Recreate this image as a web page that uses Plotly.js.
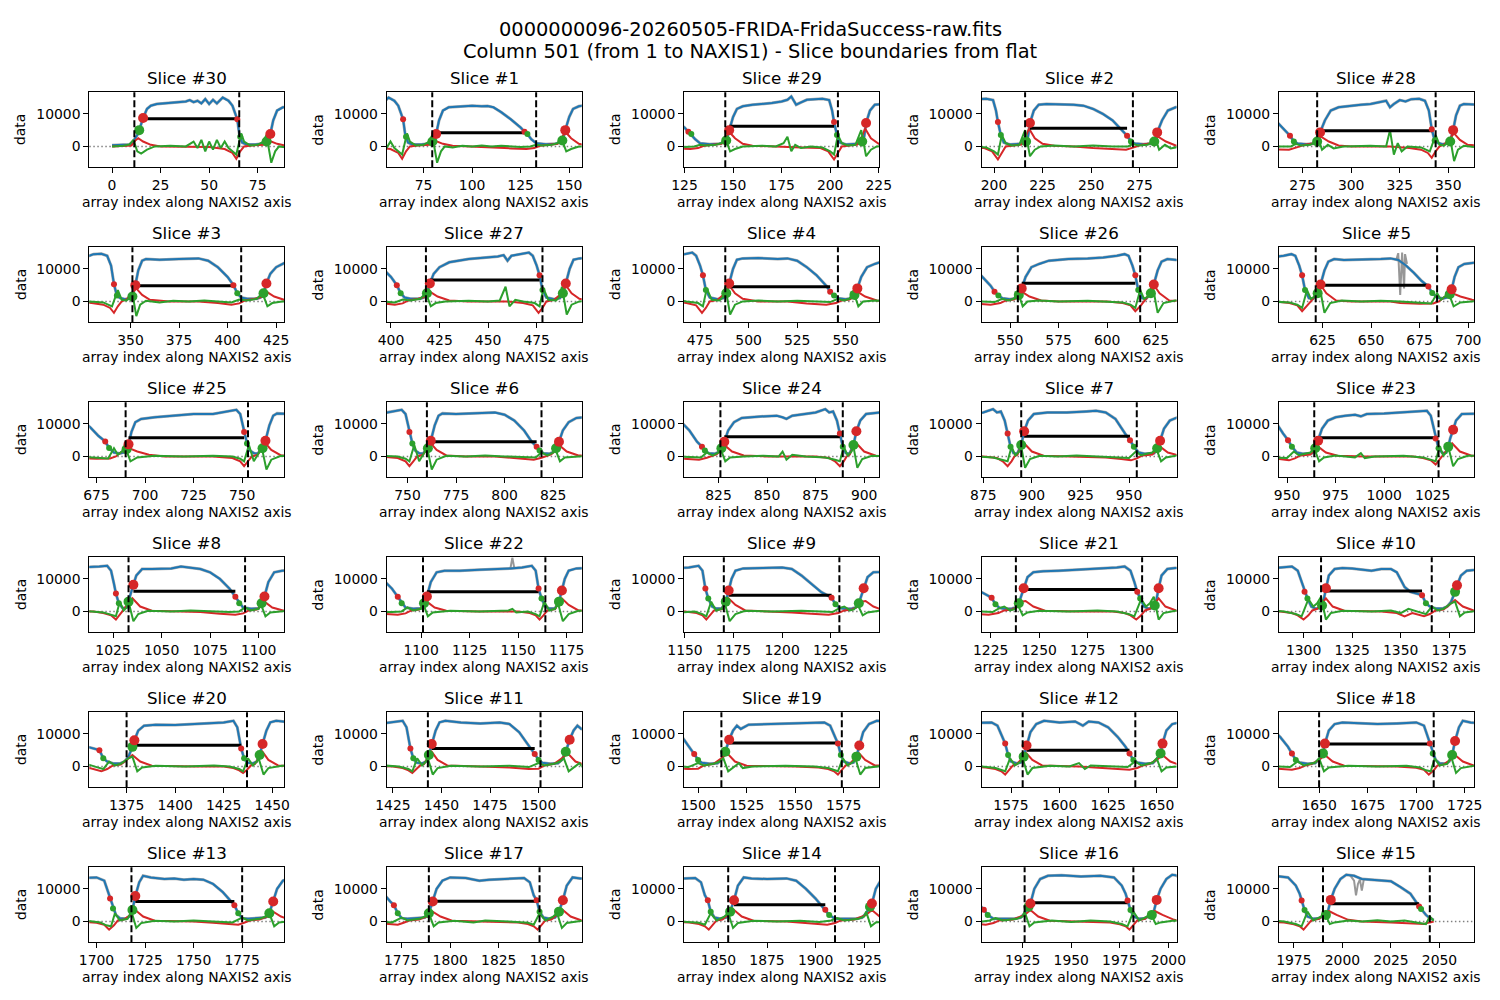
<!DOCTYPE html>
<html><head><meta charset="utf-8">
<script src="https://cdn.plot.ly/plotly-3.0.1.min.js"></script>
<style>html,body{margin:0;padding:0;background:#fff}#chart{width:1500px;height:1000px}</style>
</head><body><div id="chart"></div>
<script>
// ---------------- DATA ----------------
const sliceIds = [30,1,29,2,28,3,27,4,26,5,25,6,24,7,23,8,22,9,21,10,20,11,19,12,18,13,17,14,16,15];
const sliceLeft = [11.5,79.5,146,216,282.5,351,418,488,554,621.5,690,760,826,894.5,964,1033,1101,1170,1238,1309,1375,1443,1512,1581,1650,1718,1789,1855,1926,1990];
const sliceRight = [65.5,133,204,271.5,343.5,407,478,546,617,684,753,819,889,954,1028,1093,1164,1229.5,1303,1366,1437,1501,1574,1639,1709,1775,1846,1910,1982,2045];
const blackLevel = [8500,4200,6200,5600,4800,4800,6600,4500,5600,5000,5700,4500,6000,6200,5700,6200,6000,4950,6700,6300,6500,5500,7200,5000,6900,6100,6200,5100,5700,5400];
const redBigX = [16,81.5,148,218.5,284,352.5,420,490,556,624,691.5,762,828,896,966,1035.5,1103,1172.5,1242,1311.5,1379,1445,1516,1583,1653,1720,1791,1858,1929,1994];
const redBigY = [8700,3800,5000,7200,4300,5000,5500,5500,4000,5200,3700,4800,4500,7700,4800,8200,4600,6400,7100,7100,8000,6900,8200,6400,7000,7800,6100,6500,5500,6600];
const redSmallX = [64.5,127,202,268.5,341.5,403,476.5,542,614.5,679.5,751,816.5,887.5,950.5,1026.5,1088,1160.5,1225.5,1300.5,1361,1434,1498,1572,1636,1707,1771,1844.5,1905,1979,2039.5];
const redSmallY = [8300,4500,7500,3300,5300,5000,8000,3000,8000,4600,7500,3000,7000,5000,5500,4500,7000,4200,6000,5000,5500,3800,7000,4000,7000,5000,6500,3600,6400,4600];
const greenBigX = [14,79.6,146.5,216.5,282.5,351,418.5,488.5,554.5,622.5,690.5,760.5,826.5,894.5,964.5,1033,1101.5,1171,1239.5,1309.5,1378,1443.5,1514,1581.5,1652,1718.5,1789,1856,1928,1991.5];
const greenBigY = [5000,1500,1800,1500,1500,1500,2500,2500,2000,2500,2200,2500,2500,3500,2500,3000,2500,3000,2500,1800,6000,3500,4500,3000,4000,3500,2500,3000,4500,2000];
const greenSmallX = [66,128.5,203.5,270.5,343,405,478,544,616,681.5,752.5,818,889,952.5,1028,1090,1162,1227.5,1302,1363,1435.5,1500,1573.5,1638,1708.5,1773,1846,1907,1980.5,2040.5];
const greenSmallY = [3000,3800,3500,1500,1800,2500,3500,1800,3500,2600,4000,1800,3000,3000,2500,2500,4000,2200,4000,2500,2500,2000,3500,2000,4000,2500,3000,2000,3500,3800];

// smoothed column profile (blue)
const blueXY = [
[0,400],[5,500],[9,600],[10.5,1200],
[11.5,2000],[13,3500],[14,5000],[16,8700],[18,11500],[20,12500],[23,13000],[28,13200],[33,13500],[38,13800],[40,14200],[42,13600],[44,14000],[46,13200],[48,14500],[50,13000],[52,14300],[54,13200],[57,15000],[60,14000],[62,12500],[64.5,8300],[65.5,4000],[67,1200],[69,700],[74,600],[78,900],
[79,1300],[80.5,2600],[81.5,3800],[83,8000],[85,11000],[88,12000],[95,12300],[100,12500],[105,12300],[108,12400],[111,12000],[115,10500],[120,8300],[125,5800],[127,4500],[128.5,3800],[130.5,2200],[133,1000],[138,700],[143,800],
[145,1200],[146.5,1800],[148,5000],[150,9000],[152,11500],[155,12300],[160,12800],[165,13000],[170,13300],[175,13800],[178,14300],[180,15300],[182.5,12800],[185,13500],[188,14300],[192,14500],[196,14600],[199.5,14200],[201,11000],[202,7500],[203.5,3500],[205,1200],[208,600],[214,800],
[215.5,1200],[216.5,1500],[217.5,3000],[218.5,7200],[220.5,11000],[223,12800],[227,13000],[233,13000],[241,12800],[246,12500],[251,11500],[256,10000],[261,8000],[265,5500],[268.5,3300],[270.5,1500],[272.5,900],[277,700],[281,900],
[282.5,1500],[284,4300],[286.5,8000],[289.5,11000],[293.5,12000],[300,12500],[305,12800],[310,13000],[315,13500],[318,14000],[320,12000],[322,13000],[325,14200],[328,13800],[331,14500],[335,14600],[338,14000],[340,11000],[341.5,5300],[343,1800],[344.5,1100],[347,700],[349.5,900],
[351,1500],[352.5,5000],[354,9500],[356,12500],[358,13000],[365,12800],[375,13000],[385,13200],[390,12500],[395,10500],[400,7500],[403,5000],[405,2500],[407,1200],[410,800],[415,800],
[417,1200],[418.5,2500],[420,5500],[422,8500],[425,10500],[430,12000],[440,13000],[450,13500],[455,13800],[458,14200],[460,12500],[462,14000],[467,14500],[471,15000],[473,14000],[475,11000],[476.5,8000],[478,3500],[480,1200],[484,700],[487,1000],
[488.5,2500],[490,5500],[492,10000],[494,12800],[497,13200],[505,13300],[515,13000],[520,13200],[525,12500],[530,10500],[535,8000],[540,4800],[542,3000],[544,1800],[546,1000],[550,700],[553,1000],
[554.5,2000],[556,4000],[558,7500],[561,10500],[565,11500],[570,12500],[580,13000],[590,13200],[598,13500],[605,14000],[609,14500],[611,14000],[613,11000],[614.5,8000],[616,3500],[618,1000],[620,800],
[621.5,1800],[622.5,2500],[624,5200],[626,9500],[628,12200],[631,13000],[636,12700],[640,12800],[645,13000],[650,12900],[655,13000],[660,13200],[664,12700],[668,11000],[672,8800],[676,6300],[679.5,4600],[681.5,2600],[684,1200],[687,900],
[689,1200],[690.5,2200],[691.5,3700],[693,7500],[695,10500],[698,11500],[705,12000],[715,12500],[725,13000],[735,13000],[740,13500],[745,14000],[747,14300],[749,13000],[751,7500],[752.5,4000],[754,1800],[756,1000],[758,900],
[760.5,2500],[762,4800],[764,9500],[766,12500],[768,13200],[775,13000],[785,13200],[795,13500],[800,12800],[805,11000],[810,8000],[814,4500],[816.5,3000],[818,1800],[820,1000],[823,800],
[825,1300],[826.5,2500],[828,4500],[830,8000],[833,10500],[837,11800],[845,12200],[855,12500],[858,12000],[860,11500],[863,12500],[870,13000],[875,13500],[880,14500],[882,13500],[884,13800],[886,11000],[887.5,7000],[889,3000],[890.5,1000],[892.5,900],
[894.5,3500],[896,7700],[898,11000],[901,13000],[908,13500],[918,13500],[928,13800],[933,14000],[938,13500],[943,11500],[948,7000],[950.5,5000],[952.5,3000],[955,1200],[958,800],[963,1000],
[964.5,2500],[966,4800],[968,8500],[971,11000],[975,12000],[980,12500],[985,12800],[988,12300],[991,13000],[1000,13200],[1010,13500],[1018,13800],[1022,14000],[1024,12500],[1025.5,8500],[1026.5,5500],[1028,2500],[1030,1000],[1032,1200],
[1033,3000],[1034,5500],[1035.5,8200],[1037,11000],[1040,13000],[1045,13000],[1050,13000],[1055,13200],[1060,13800],[1065,13500],[1070,13000],[1075,12000],[1080,10000],[1085,7000],[1088,4500],[1090,2500],[1092,1200],[1096,800],[1100,1000],
[1101.5,2500],[1103,4600],[1105,9000],[1108,12000],[1112,12500],[1120,12500],[1130,12800],[1140,13000],[1146,13200],[1152,13500],[1157,14000],[1159,12500],[1160.5,7000],[1162,4000],[1164,1500],[1166,900],[1169,1000],
[1171,3000],[1172.5,6400],[1174,10000],[1176,12500],[1180,13200],[1190,13300],[1200,13500],[1205,13000],[1210,11000],[1215,8500],[1220,6000],[1225.5,4200],[1227.5,2200],[1229.5,1100],[1232,800],[1236,900],
[1238,1200],[1239.5,2500],[1241,5000],[1242,7100],[1244,10500],[1247,12000],[1252,12300],[1260,12500],[1270,12800],[1280,13000],[1290,13500],[1294,13800],[1297,12500],[1299,9000],[1300.5,6000],[1302,4000],[1304,1500],[1306,900],[1308,1000],
[1309.5,1800],[1310.5,4000],[1311.5,7100],[1313,11000],[1316,13000],[1320,13300],[1325,13200],[1330,12800],[1335,12500],[1340,13000],[1345,13000],[1348,12000],[1352,7500],[1355,6000],[1361,5000],[1363,2500],[1365,1500],[1368,900],[1372,1000],
[1374,1500],[1376,3000],[1378,6000],[1379,8000],[1381,11000],[1384,12500],[1390,12800],[1400,12700],[1410,13000],[1420,13200],[1425,13500],[1430,14000],[1432,12000],[1434,5500],[1435.5,2500],[1437,1200],[1440,900],
[1442,1500],[1443.5,3500],[1445,6900],[1447,11000],[1449,13500],[1452,14000],[1460,13500],[1470,13200],[1480,13500],[1485,13000],[1490,10500],[1495,6500],[1498,3800],[1500,2000],[1502,1100],[1506,800],[1510,1000],
[1512,2000],[1514,4500],[1516,8200],[1518,11000],[1520,12500],[1522,11500],[1526,12800],[1540,13000],[1555,13300],[1565,13500],[1568,12500],[1570,10000],[1572,7000],[1573.5,3500],[1575,1500],[1578,900],
[1580,1200],[1581.5,3000],[1583,6400],[1585,10500],[1588,13000],[1592,14000],[1600,13500],[1608,13800],[1612,12500],[1615,13800],[1620,13500],[1625,12000],[1630,9000],[1634,6000],[1636,4000],[1638,2000],[1640,1200],[1644,800],[1648,1000],
[1650.5,2500],[1652,4000],[1653,7000],[1655,11000],[1658,13000],[1662,13500],[1670,13300],[1680,13000],[1690,13200],[1700,13500],[1704,12500],[1706,9000],[1707,7000],[1708.5,4000],[1710,2000],[1712,1000],[1715,800],
[1717,1500],[1718.5,3500],[1720,7800],[1722,12000],[1724,14000],[1728,13500],[1735,13000],[1740,13200],[1745,12800],[1750,13000],[1755,12800],[1760,11500],[1765,9000],[1769,6200],[1771,5000],[1773,2500],[1775,1000],[1778,800],[1785,1000],
[1787,1200],[1789,2500],[1791,6100],[1793,10000],[1796,12500],[1800,13500],[1808,13300],[1815,12500],[1820,12800],[1830,13000],[1838,13300],[1841,12000],[1843,8000],[1844.5,6500],[1846,3000],[1848,1200],[1851,800],
[1854,1200],[1856,3000],[1858,6500],[1860,11000],[1863,13500],[1867,13200],[1875,13000],[1885,13200],[1890,12500],[1895,10000],[1900,7000],[1905,3600],[1907,2000],[1910,800],[1915,700],[1921,800],
[1924,1200],[1926,2500],[1928,4500],[1929,5500],[1931,10000],[1934,13000],[1938,14000],[1945,14200],[1955,13800],[1965,14000],[1972,13500],[1976,11000],[1978,8500],[1979,6400],[1980.5,3500],[1982,1500],[1985,800],[1988,1000],
[1990,1500],[1991.5,2000],[1992.5,3000],[1994,6600],[1996,10000],[1999,13000],[2002,14300],[2006,14000],[2010,13000],[2015,12800],[2020,12500],[2025,12300],[2030,10500],[2035,8500],[2039.5,4600],[2040.5,3800],[2043,2000],[2045,1000],[2047,500]
];

// raw-data glitches visible in grey (null separates segments)
const greyGlitchXY = [
[663,12800],[664,14800],[665,2000],[666,15000],[667,4000],[667.5,14500],[668.5,11500],[null,null],
[1146,13200],[1147,16500],[1148,13300],[null,null],
[2004,14100],[2006,12500],[2007,8000],[2008,11500],[2009,12800],[2010,9500],[2011,12800]
];

// red curve
const redXY = [
[0,0],[8,100],
[10,300],[12,1800],[13.5,2500],[16,1500],[20,500],[25,0],[40,0],[50,-200],[58,-800],[62,-2000],[64,-3800],[66,-1500],[68,0],[72,300],[78,500],
[80,1200],[82,1500],[85,800],[90,200],[100,0],[110,-300],[120,-600],[128,-800],[132,-500],[135,200],[140,500],[144,800],
[146,2500],[148,4500],[151,2500],[155,800],[160,200],[175,0],[185,-300],[195,-500],[199,-1500],[202,-4000],[204,-2000],[206,0],[210,300],[214,600],
[216,2500],[218,5500],[221,2500],[225,800],[231,200],[241,0],[251,-500],[261,-900],[268,-1000],[272,-300],[276,500],[281,1000],
[283,2000],[284.5,3000],[288.5,1500],[293.5,300],[300,0],[320,0],[330,-500],[336,-1000],[339.5,-2000],[341.5,-3500],[343.5,-1500],[345.5,0],[348,600],
[351,2500],[353,4000],[356,2000],[360,500],[370,0],[385,0],[395,-500],[402,-1000],[406,-600],[409,300],[414,800],
[418,1500],[420,3000],[424,1500],[430,300],[440,0],[460,0],[468,-500],[473,-1200],[476,-3500],[478,-2000],[480,0],[484,500],
[488,2500],[490,5000],[493,2500],[497,800],[505,0],[520,0],[530,-600],[540,-1000],[545,-500],[548,300],[552,600],
[554,1500],[556,3000],[560,1500],[566,300],[575,0],[600,0],[608,-500],[612,-1200],[614.5,-3000],[617,-1500],[619,0],
[621.5,2000],[623.5,5500],[627,2500],[632,300],[640,0],[660,0],[665,-500],[675,-700],[682,-600],[685,0],[688,1500],
[690,1800],[692,2500],[696,1500],[702,500],[710,0],[735,0],[745,-500],[749,-1500],[751,-3000],[753,-1500],[755,0],[758,500],
[760,2500],[762,4000],[765,2000],[770,300],[780,0],[795,0],[805,-600],[815,-1000],[819,-400],[822,300],[824,600],
[826,1800],[828,3500],[832,1500],[838,300],[850,0],[875,0],[882,-500],[885,-1500],[887.5,-3000],[889.5,-1500],[891,0],[892.5,500],
[894,2500],[896,4000],[900,1500],[906,200],[918,0],[938,-300],[946,-800],[951,-1200],[954,-600],[957,300],[962,600],
[964,1800],[966,3000],[970,1200],[976,200],[990,0],[1015,0],[1020,-500],[1024,-1200],[1026.5,-2500],[1028.5,-1000],[1030,300],
[1033,2500],[1035,4000],[1039,1500],[1045,200],[1060,0],[1070,-200],[1080,-700],[1088,-1000],[1092,-600],[1095,300],[1099,600],
[1101,1500],[1103,3000],[1107,1200],[1113,200],[1130,0],[1150,0],[1156,-500],[1159,-1200],[1161,-2500],[1163,-1200],[1165,300],[1169,700],
[1170.5,2500],[1172.5,4000],[1176,2000],[1181,300],[1195,0],[1205,-300],[1215,-700],[1224,-1000],[1229,-500],[1232,300],[1236,600],
[1239,1500],[1241,3000],[1243,3200],[1247,1500],[1253,200],[1270,0],[1288,0],[1294,-500],[1297,-1200],[1300,-2500],[1302.5,-1200],[1304.5,300],[1307,800],
[1309.5,2500],[1311.5,4000],[1315,1500],[1321,200],[1340,0],[1348,-500],[1352,-1500],[1356,-500],[1362,-1500],[1365,-800],[1368,300],[1372,600],
[1375,2000],[1378,3500],[1382,1500],[1388,200],[1410,0],[1425,0],[1430,-500],[1433,-1200],[1435,-2000],[1437,-1000],[1439,300],[1441,700],
[1443,2500],[1445,4500],[1448,2000],[1453,300],[1470,0],[1485,-300],[1495,-800],[1500,-700],[1503,300],[1508,800],
[1512,2500],[1515,4000],[1519,1500],[1525,200],[1550,0],[1562,-300],[1567,-800],[1570,-1500],[1572,-2500],[1574,-1200],[1576,300],[1578,700],
[1581,2500],[1583,4000],[1586,2000],[1591,300],[1610,0],[1620,-300],[1630,-700],[1636,-1000],[1640,-500],[1643,300],[1646,700],
[1650,2000],[1653,3500],[1657,1500],[1663,200],[1690,0],[1700,-400],[1704,-1000],[1706.5,-2500],[1709,-1200],[1711,300],[1714,600],
[1718,2200],[1720,3500],[1724,1500],[1730,200],[1750,0],[1760,-400],[1768,-900],[1773,-1000],[1776,-400],[1779,300],[1784,600],
[1789,1800],[1791,3000],[1795,1500],[1801,200],[1825,0],[1835,-300],[1840,-800],[1843,-1500],[1845,-2500],[1847,-1000],[1849,300],[1852,600],
[1855,2200],[1858,3500],[1862,1500],[1868,200],[1885,0],[1892,-400],[1900,-800],[1906,-1000],[1910,-500],[1913,300],[1920,600],
[1926,2000],[1929,3500],[1933,1500],[1939,200],[1960,0],[1970,-300],[1975,-900],[1978,-1500],[1980,-2500],[1982,-1200],[1984,300],[1988,800],
[1990,2000],[1993,3200],[1997,2000],[2003,500],[2010,0],[2025,-300],[2035,-700],[2042,-800],[2045,-300],[2047,0]
];

// green curve
const greenXY = [
[0,0],[6,200],[9,600],
[11,2000],[13,-1500],[15,-2200],[18,-1000],[22,0],[30,200],[38,0],[42,1500],[44,-500],[46,2000],[48,-1500],[50,1500],[52,-1000],[54,2000],[56,-500],[58,1500],[60,-500],[62,-1500],[64,-2500],[66.5,4000],[68,1500],[71,300],[75,500],[78,1500],
[79.5,3500],[82,-5000],[84,-1500],[86,0],[90,-300],[95,200],[100,0],[105,300],[110,0],[115,200],[120,0],[125,-200],[130,0],[133,500],[136,300],[141,500],[144,1000],
[146,2500],[148.5,-1500],[151,-800],[155,0],[165,200],[172,0],[176,1000],[178,3000],[180,-1500],[182,500],[185,-500],[190,0],[196,-300],[200,-1500],[202,-2500],[204,3500],[206,1000],[209,300],[213,500],
[216,5000],[218.5,-3000],[221,-1000],[224,0],[231,300],[241,0],[251,300],[261,0],[269,0],[271.5,800],[274,300],[279,500],[282,1500],
[283,2500],[285,-1000],[288,500],[291,-600],[296,0],[310,200],[318,0],[320,5000],[322,-2500],[324,1000],[326,-1500],[329,0],[336,-300],[340.5,-1500],[343.5,3500],[345.5,500],[348,300],[350,1500],
[351,2500],[353,-4500],[355,-1000],[358,200],[365,-300],[372,200],[380,0],[388,300],[395,0],[402,-300],[406,600],[410,300],[415,800],
[418,2500],[420.5,-1500],[423,-500],[428,0],[440,200],[450,0],[456,300],[459,4500],[461,-1500],[464,500],[468,0],[474,-500],[476.5,-1500],[478.5,4000],[481,500],[485,300],[487,1500],
[488,4500],[490.5,-4000],[493,-1000],[497,0],[505,300],[515,0],[525,200],[535,0],[542,-200],[546,800],[549,300],[552,800],
[554,3000],[556.5,-1500],[559,0],[565,300],[575,0],[590,200],[600,0],[608,-300],[612,-1000],[614.5,-2000],[617,3500],[619,800],[621,1500],
[621.5,3000],[623.5,4500],[626,-3500],[629,-500],[635,300],[645,0],[655,200],[665,0],[675,-300],[681,-600],[684,2500],[686,500],[688,1500],
[690,2500],[692.5,-1500],[696,-300],[705,200],[720,0],[735,200],[745,0],[749,-700],[751,-1500],[753.5,3500],[756,-1500],[758,500],[759.5,2000],
[760,3000],[762.5,-4000],[765,-1000],[770,200],[780,0],[790,300],[800,0],[810,-300],[816,-300],[819,1200],[822,300],[825,1200],
[826,2500],[828.5,-1500],[831,-300],[838,0],[848,200],[856,0],[858,1500],[860,-1000],[863,500],[870,0],[880,-300],[885,-1000],[887.5,-1500],[889.5,3000],[891.5,300],[893.5,1500],
[894.5,3000],[896.5,-3500],[899,-800],[904,200],[913,0],[923,300],[933,0],[943,-300],[950,-500],[953.5,1500],[956,400],[962,1200],
[964,2500],[966.5,-1500],[969,-300],[975,300],[985,-300],[988,1000],[990,-500],[995,0],[1010,200],[1020,-300],[1024,-1000],[1026.5,-1500],[1028.5,3000],[1030.5,300],[1032,1200],
[1033,3000],[1035.5,-3000],[1038,-800],[1043,200],[1055,0],[1065,300],[1075,0],[1085,-200],[1090,0],[1093,1200],[1096,300],[1100,800],
[1101,2500],[1103.5,-1500],[1106,-300],[1115,200],[1130,0],[1145,300],[1147,800],[1149,-300],[1155,0],[1159,-800],[1161,-1500],[1163.5,3000],[1166,300],[1169,800],
[1170.5,2500],[1173,-3000],[1176,-800],[1181,200],[1195,0],[1210,200],[1220,0],[1226,-200],[1229.5,1000],[1232,1500],[1235,300],[1237,600],
[1239,2000],[1241.5,-1200],[1244,-300],[1250,200],[1265,0],[1280,300],[1290,0],[1296,-800],[1299,-1500],[1302.5,3800],[1305,1500],[1307,2500],
[1309,4500],[1311.5,-2500],[1314,-500],[1320,200],[1335,0],[1345,300],[1350,-500],[1354,800],[1360,-300],[1363,-800],[1366,1500],[1369,300],[1372,800],[1375,2000],
[1376,2500],[1378,3000],[1380.5,-1500],[1383,-300],[1390,200],[1405,0],[1420,300],[1428,0],[1433,-800],[1435,-1500],[1437.5,2500],[1440,300],[1442,1500],
[1443,2500],[1445.5,-2500],[1448,-500],[1455,200],[1470,0],[1485,200],[1495,-200],[1500,1000],[1503,300],[1508,800],
[1511,1500],[1513,2500],[1515.5,-1500],[1518,-300],[1521,1000],[1523,-500],[1528,0],[1545,200],[1560,0],[1567,-500],[1570,-1200],[1572,-1500],[1574.5,2500],[1577,300],[1580,1500],
[1581,2500],[1583.5,-2500],[1586,-500],[1595,200],[1605,0],[1610,1000],[1613,-800],[1616,300],[1625,0],[1635,-200],[1639,1500],[1642,300],[1648,1200],
[1650,2500],[1652.5,-1500],[1655,-300],[1665,200],[1680,0],[1695,200],[1702,-300],[1705,-1200],[1707.5,-1500],[1709.5,2500],[1712,300],[1716,800],
[1718,3000],[1720.5,-2000],[1723,-500],[1730,200],[1740,0],[1750,300],[1760,0],[1770,-300],[1775,1200],[1778,300],[1784,800],[1787,1500],
[1789,2500],[1791.5,-1500],[1794,-300],[1802,200],[1812,-300],[1818,300],[1830,0],[1840,-400],[1843,-1000],[1846,2500],[1849,300],[1853,1500],
[1855,2500],[1857.5,-2000],[1860,-500],[1868,200],[1880,0],[1892,200],[1902,-200],[1908,300],[1911,1000],[1915,300],[1922,800],[1925,1500],
[1926,3000],[1928.5,-1500],[1931,-300],[1940,300],[1950,-200],[1960,300],[1970,0],[1976,-800],[1979,-1500],[1982,3000],[1985,300],[1989,1500],
[1991,2500],[1993.5,-800],[1996,-300],[2003,300],[2010,0],[2018,400],[2025,0],[2032,300],[2038,-300],[2043,-800],[2045,1500],[2047,200]
];

const suptitleLine1 = '0000000096-20260505-FRIDA-FridaSuccess-raw.fits';
const suptitleLine2 = 'Column 501 (from 1 to NAXIS1) - Slice boundaries from flat';
const xLabel = 'array index along NAXIS2 axis';
const yLabel = 'data';
const yTickVals = [0, 10000];
const yTickText = ['0', '10000'];

// ---------------- BUILD ----------------
const FONT = 'DejaVu Sans, Liberation Sans, sans-serif';
const W = 1500, H = 1000;
const colLeft0 = 89.3, colStep = 297.4, axW = 195;
const rowTop0 = 92.3, rowStep = 155, axH = 75;
const halfWindow = 50.2;
const yRange = [-6400, 16600];

const col = (arr, i) => arr.map(p => p[i]);
const blueX = col(blueXY,0), blueY = col(blueXY,1);
const glX = col(greyGlitchXY,0), glY = col(greyGlitchXY,1);
const redX = col(redXY,0), redY = col(redXY,1);
const grX = col(greenXY,0), grY = col(greenXY,1);

const traces = [];
const shapes = [];
const annotations = [];
const layout = {
  width: W, height: H, margin: {l:0,r:0,t:0,b:0},
  paper_bgcolor: '#fff', plot_bgcolor: '#fff', showlegend: false,
  font: {family: FONT, color: '#000'}
};

const px2x = px => px / W;
const px2y = py => 1 - py / H;

for (let k = 0; k < sliceIds.length; k++) {
  const r = Math.floor(k / 5), c = k % 5;
  const sfx = k === 0 ? '' : String(k + 1);
  const xa = 'x' + sfx, ya = 'y' + sfx;
  const xl = colLeft0 + colStep * c, yt = rowTop0 + rowStep * r;
  const L = sliceLeft[k], R = sliceRight[k];
  const mid = (L + R) / 2;

  layout['xaxis' + sfx] = {
    domain: [px2x(xl), px2x(xl + axW)], anchor: ya,
    range: [mid - halfWindow, mid + halfWindow], tick0: 0, dtick: 25,
    ticks: 'outside', ticklen: 5, tickwidth: 1, tickcolor: '#000',
    showline: true, mirror: true, linecolor: '#000', linewidth: 1,
    showgrid: false, zeroline: false, exponentformat: 'none',
    tickfont: {family: FONT, size: 13.9, color: '#000'}, fixedrange: true
  };
  layout['yaxis' + sfx] = {
    domain: [px2y(yt + axH), px2y(yt)], anchor: xa,
    range: yRange, tickvals: yTickVals, ticktext: yTickText,
    ticks: 'outside', ticklen: 5, tickwidth: 1, tickcolor: '#000',
    showline: true, mirror: true, linecolor: '#000', linewidth: 1,
    showgrid: false, zeroline: false,
    tickfont: {family: FONT, size: 13.9, color: '#000'}, fixedrange: true
  };

  const common = {xaxis: xa, yaxis: ya, hoverinfo: 'skip', showlegend: false};
  traces.push(Object.assign({x: blueX, y: blueY, mode: 'lines', line: {color: '#8c8c8c', width: 3}, opacity: 0.75}, common));
  traces.push(Object.assign({x: glX, y: glY, mode: 'lines', line: {color: '#8c8c8c', width: 2}, opacity: 0.9, connectgaps: false}, common));
  traces.push(Object.assign({x: blueX, y: blueY, mode: 'lines', line: {color: '#1f77b4', width: 2}}, common));
  traces.push(Object.assign({x: redX, y: redY, mode: 'lines', line: {color: '#d62728', width: 2}}, common));
  traces.push(Object.assign({x: grX, y: grY, mode: 'lines', line: {color: '#2ca02c', width: 2}}, common));
  traces.push(Object.assign({x: [redBigX[k], redSmallX[k]], y: [blackLevel[k], blackLevel[k]], mode: 'lines', line: {color: '#000', width: 3}}, common));
  traces.push(Object.assign({x: redSmallX, y: redSmallY, mode: 'markers', marker: {color: '#d62728', size: 6}}, common));
  traces.push(Object.assign({x: greenSmallX, y: greenSmallY, mode: 'markers', marker: {color: '#2ca02c', size: 6}}, common));
  traces.push(Object.assign({x: greenBigX, y: greenBigY, mode: 'markers', marker: {color: '#2ca02c', size: 10}}, common));
  traces.push(Object.assign({x: redBigX, y: redBigY, mode: 'markers', marker: {color: '#d62728', size: 10}}, common));

  shapes.push({type: 'line', xref: xa + ' domain', yref: ya, x0: 0, x1: 1, y0: 0, y1: 0,
    line: {color: '#808080', width: 1.5, dash: '1.5px,2.5px'}, layer: 'below'});
  [L, R].forEach(b => shapes.push({type: 'line', xref: xa, yref: ya + ' domain', x0: b, x1: b, y0: 0, y1: 1,
    line: {color: '#000', width: 2, dash: '7px,3px'}}));

  annotations.push({text: 'Slice #' + sliceIds[k], xref: 'paper', yref: 'paper',
    x: px2x(xl + axW / 2), y: px2y(yt - 14), xanchor: 'center', yanchor: 'middle',
    showarrow: false, font: {family: FONT, size: 16.7, color: '#000'}});
  annotations.push({text: xLabel, xref: 'paper', yref: 'paper',
    x: px2x(xl + axW / 2), y: px2y(yt + axH + 35), xanchor: 'center', yanchor: 'middle',
    showarrow: false, font: {family: FONT, size: 13.9, color: '#000'}});
  annotations.push({text: yLabel, xref: 'paper', yref: 'paper', textangle: -90,
    x: px2x(xl - 69), y: px2y(yt + axH / 2), xanchor: 'center', yanchor: 'middle',
    showarrow: false, font: {family: FONT, size: 13.9, color: '#000'}});
}

annotations.push({text: suptitleLine1, xref: 'paper', yref: 'paper', x: 0.5, y: px2y(29),
  xanchor: 'center', yanchor: 'middle', showarrow: false, font: {family: FONT, size: 19.4, color: '#000'}});
annotations.push({text: suptitleLine2, xref: 'paper', yref: 'paper', x: 0.5, y: px2y(51),
  xanchor: 'center', yanchor: 'middle', showarrow: false, font: {family: FONT, size: 19.4, color: '#000'}});

layout.shapes = shapes;
layout.annotations = annotations;

Plotly.newPlot('chart', traces, layout, {displayModeBar: false, staticPlot: true});
</script>
</body></html>
